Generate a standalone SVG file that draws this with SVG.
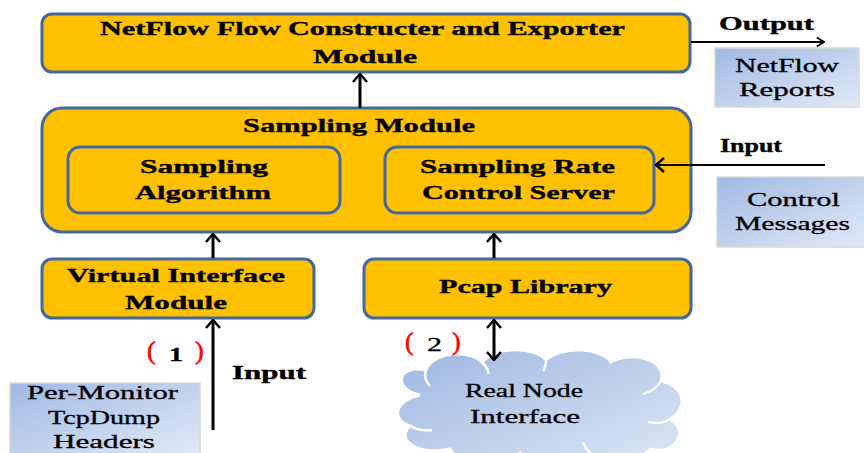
<svg xmlns="http://www.w3.org/2000/svg" width="864" height="453" viewBox="0 0 864 453">
  <defs>
    <style>
      .mod { fill: #ffc000; stroke: #43699c; stroke-width: 3; }
      .note { fill: url(#blueFill); stroke: #d8d8d8; stroke-width: 1.5; }
      text { font-family: 'Liberation Serif', 'DejaVu Serif', serif; fill: #000; font-size: 19px; }
      .lbl { font-weight: bold; stroke: #000; stroke-width: 0.35; }
      .plain { font-weight: normal; stroke: #000; stroke-width: 0.3; }
      .br { font-size: 26px; fill: #ff0000; stroke: #ff0000; stroke-width: 0.6; }
      .wire { stroke: #000; stroke-width: 3; fill: none; }
      .thin { stroke: #000; stroke-width: 2; fill: none; }
    </style>
    <linearGradient id="blueFill" x1="0" y1="0" x2="1" y2="1">
      <stop offset="0" stop-color="#9fb9e4"/>
      <stop offset="1" stop-color="#e3eaf6"/>
    </linearGradient>
    <linearGradient id="cloudFill" x1="0" y1="0" x2="1" y2="1">
      <stop offset="0" stop-color="#9db7e2"/>
      <stop offset="1" stop-color="#dde6f4"/>
    </linearGradient>
    <marker id="head" viewBox="0 0 10 16" refX="9" refY="8" markerWidth="10" markerHeight="16" markerUnits="userSpaceOnUse" orient="auto-start-reverse">
      <path d="M1,1 L9,8 L1,15" fill="none" stroke="#000" stroke-width="2.5"/>
    </marker>
    <marker id="headSmall" viewBox="0 0 10 12" refX="9" refY="6" markerWidth="9" markerHeight="11" markerUnits="userSpaceOnUse" orient="auto">
      <path d="M1,1 L9,6 L1,11" fill="none" stroke="#000" stroke-width="2"/>
    </marker>
  </defs>

  <rect width="864" height="453" fill="#fff"/>

  <!-- exporter module -->
  <g id="exporter">
    <rect class="mod" x="42" y="14" width="648" height="58" rx="10"/>
    <text class="lbl" x="100" y="35" textLength="525" lengthAdjust="spacingAndGlyphs">NetFlow Flow Constructer and Exporter</text>
    <text class="lbl" x="313" y="63" textLength="104" lengthAdjust="spacingAndGlyphs">Module</text>
  </g>

  <!-- output report note -->
  <g id="reports">
    <rect class="note" x="715" y="48" width="144" height="59"/>
    <text class="plain" x="735" y="72" textLength="104" lengthAdjust="spacingAndGlyphs">NetFlow</text>
    <text class="plain" x="739" y="96" textLength="96" lengthAdjust="spacingAndGlyphs">Reports</text>
  </g>

  <!-- sampling module with its two parts -->
  <g id="sampling">
    <rect class="mod" x="42" y="108" width="649" height="124" rx="20"/>
    <text class="lbl" x="243" y="132" textLength="232" lengthAdjust="spacingAndGlyphs">Sampling Module</text>
  </g>
  <g id="algorithm">
    <rect class="mod" x="68" y="147" width="272" height="66" rx="12"/>
    <text class="lbl" x="140" y="173" textLength="128" lengthAdjust="spacingAndGlyphs">Sampling</text>
    <text class="lbl" x="135" y="199" textLength="136" lengthAdjust="spacingAndGlyphs">Algorithm</text>
  </g>
  <g id="rate-server">
    <rect class="mod" x="385" y="147" width="269" height="66" rx="12"/>
    <text class="lbl" x="420" y="173" textLength="195" lengthAdjust="spacingAndGlyphs">Sampling Rate</text>
    <text class="lbl" x="422" y="199" textLength="193" lengthAdjust="spacingAndGlyphs">Control Server</text>
  </g>

  <!-- control messages note -->
  <g id="control">
    <rect class="note" x="717" y="177" width="150" height="70"/>
    <text class="plain" x="747" y="206" textLength="93" lengthAdjust="spacingAndGlyphs">Control</text>
    <text class="plain" x="735" y="230" textLength="115" lengthAdjust="spacingAndGlyphs">Messages</text>
  </g>

  <!-- lower modules -->
  <g id="virtual-interface">
    <rect class="mod" x="42" y="259" width="272" height="59" rx="10"/>
    <text class="lbl" x="67" y="282" textLength="218" lengthAdjust="spacingAndGlyphs">Virtual Interface</text>
    <text class="lbl" x="125" y="309" textLength="102" lengthAdjust="spacingAndGlyphs">Module</text>
  </g>
  <g id="pcap">
    <rect class="mod" x="364" y="259" width="327" height="59" rx="10"/>
    <text class="lbl" x="439" y="293" textLength="173" lengthAdjust="spacingAndGlyphs">Pcap Library</text>
  </g>

  <!-- tcpdump source note -->
  <g id="tcpdump">
    <rect class="note" x="10" y="383" width="190" height="75"/>
    <text class="plain" x="27" y="399" textLength="151" lengthAdjust="spacingAndGlyphs">Per-Monitor</text>
    <text class="plain" x="48" y="424" textLength="112" lengthAdjust="spacingAndGlyphs">TcpDump</text>
    <text class="plain" x="53" y="448" textLength="102" lengthAdjust="spacingAndGlyphs">Headers</text>
  </g>

  <!-- real node interface cloud -->
  <g id="real-node">
    <path d="M420,395 C393,390 396,364 426,370 C432,352 470,349 482,362 C497,345 535,347 546,360 C562,345 602,348 611,362 C632,350 668,360 661,381 C686,386 688,410 670,419 C690,431 676,456 650,449 C640,463 600,463 590,453 C575,466 530,466 520,453 C500,466 455,463 450,449 C420,456 394,441 410,426 C390,420 395,400 420,395 Z" fill="url(#cloudFill)" stroke="#fff" stroke-width="3"/>
    <path d="M426,370 C424,376 425,381 430,386 M482,362 C486,366 488,370 489,374 M546,360 C546,364 545,368 543,371 M661,381 C657,388 650,392 643,394 M670,419 C664,423 656,424 648,422 M410,426 C417,430 424,431 432,430 M590,453 C586,449 584,446 583,442" fill="none" stroke="#fff" stroke-width="2.5"/>
    <text class="plain" x="465" y="397" textLength="118" lengthAdjust="spacingAndGlyphs">Real Node</text>
    <text class="plain" x="470" y="423" textLength="110" lengthAdjust="spacingAndGlyphs">Interface</text>
  </g>

  <!-- connectors -->
  <g id="connectors">
    <line class="wire" x1="360" y1="108" x2="360" y2="74" marker-end="url(#head)"/>
    <line class="thin" x1="691" y1="42" x2="824" y2="42" marker-end="url(#headSmall)"/>
    <line class="thin" x1="825" y1="165" x2="656" y2="165" marker-end="url(#head)"/>
    <line class="wire" x1="213" y1="258" x2="213" y2="234" marker-end="url(#head)"/>
    <line class="wire" x1="494" y1="258" x2="494" y2="234" marker-end="url(#head)"/>
    <line class="wire" x1="213" y1="430" x2="213" y2="320" marker-end="url(#head)"/>
    <line class="wire" x1="494" y1="360" x2="494" y2="320" marker-start="url(#head)" marker-end="url(#head)"/>
  </g>

  <!-- connector labels -->
  <g id="labels">
    <text class="lbl" x="719" y="30" textLength="95" lengthAdjust="spacingAndGlyphs">Output</text>
    <text class="lbl" x="720" y="152" textLength="62" lengthAdjust="spacingAndGlyphs">Input</text>
    <text class="lbl" x="232" y="379" textLength="74" lengthAdjust="spacingAndGlyphs">Input</text>
    <text class="br" x="147" y="359">(</text>
    <text class="lbl" x="169" y="361" textLength="14" lengthAdjust="spacingAndGlyphs">1</text>
    <text class="br" x="195" y="359">)</text>
    <text class="br" x="405" y="350">(</text>
    <text class="plain" x="427" y="351" textLength="15" lengthAdjust="spacingAndGlyphs">2</text>
    <text class="br" x="452" y="350">)</text>
  </g>
</svg>
